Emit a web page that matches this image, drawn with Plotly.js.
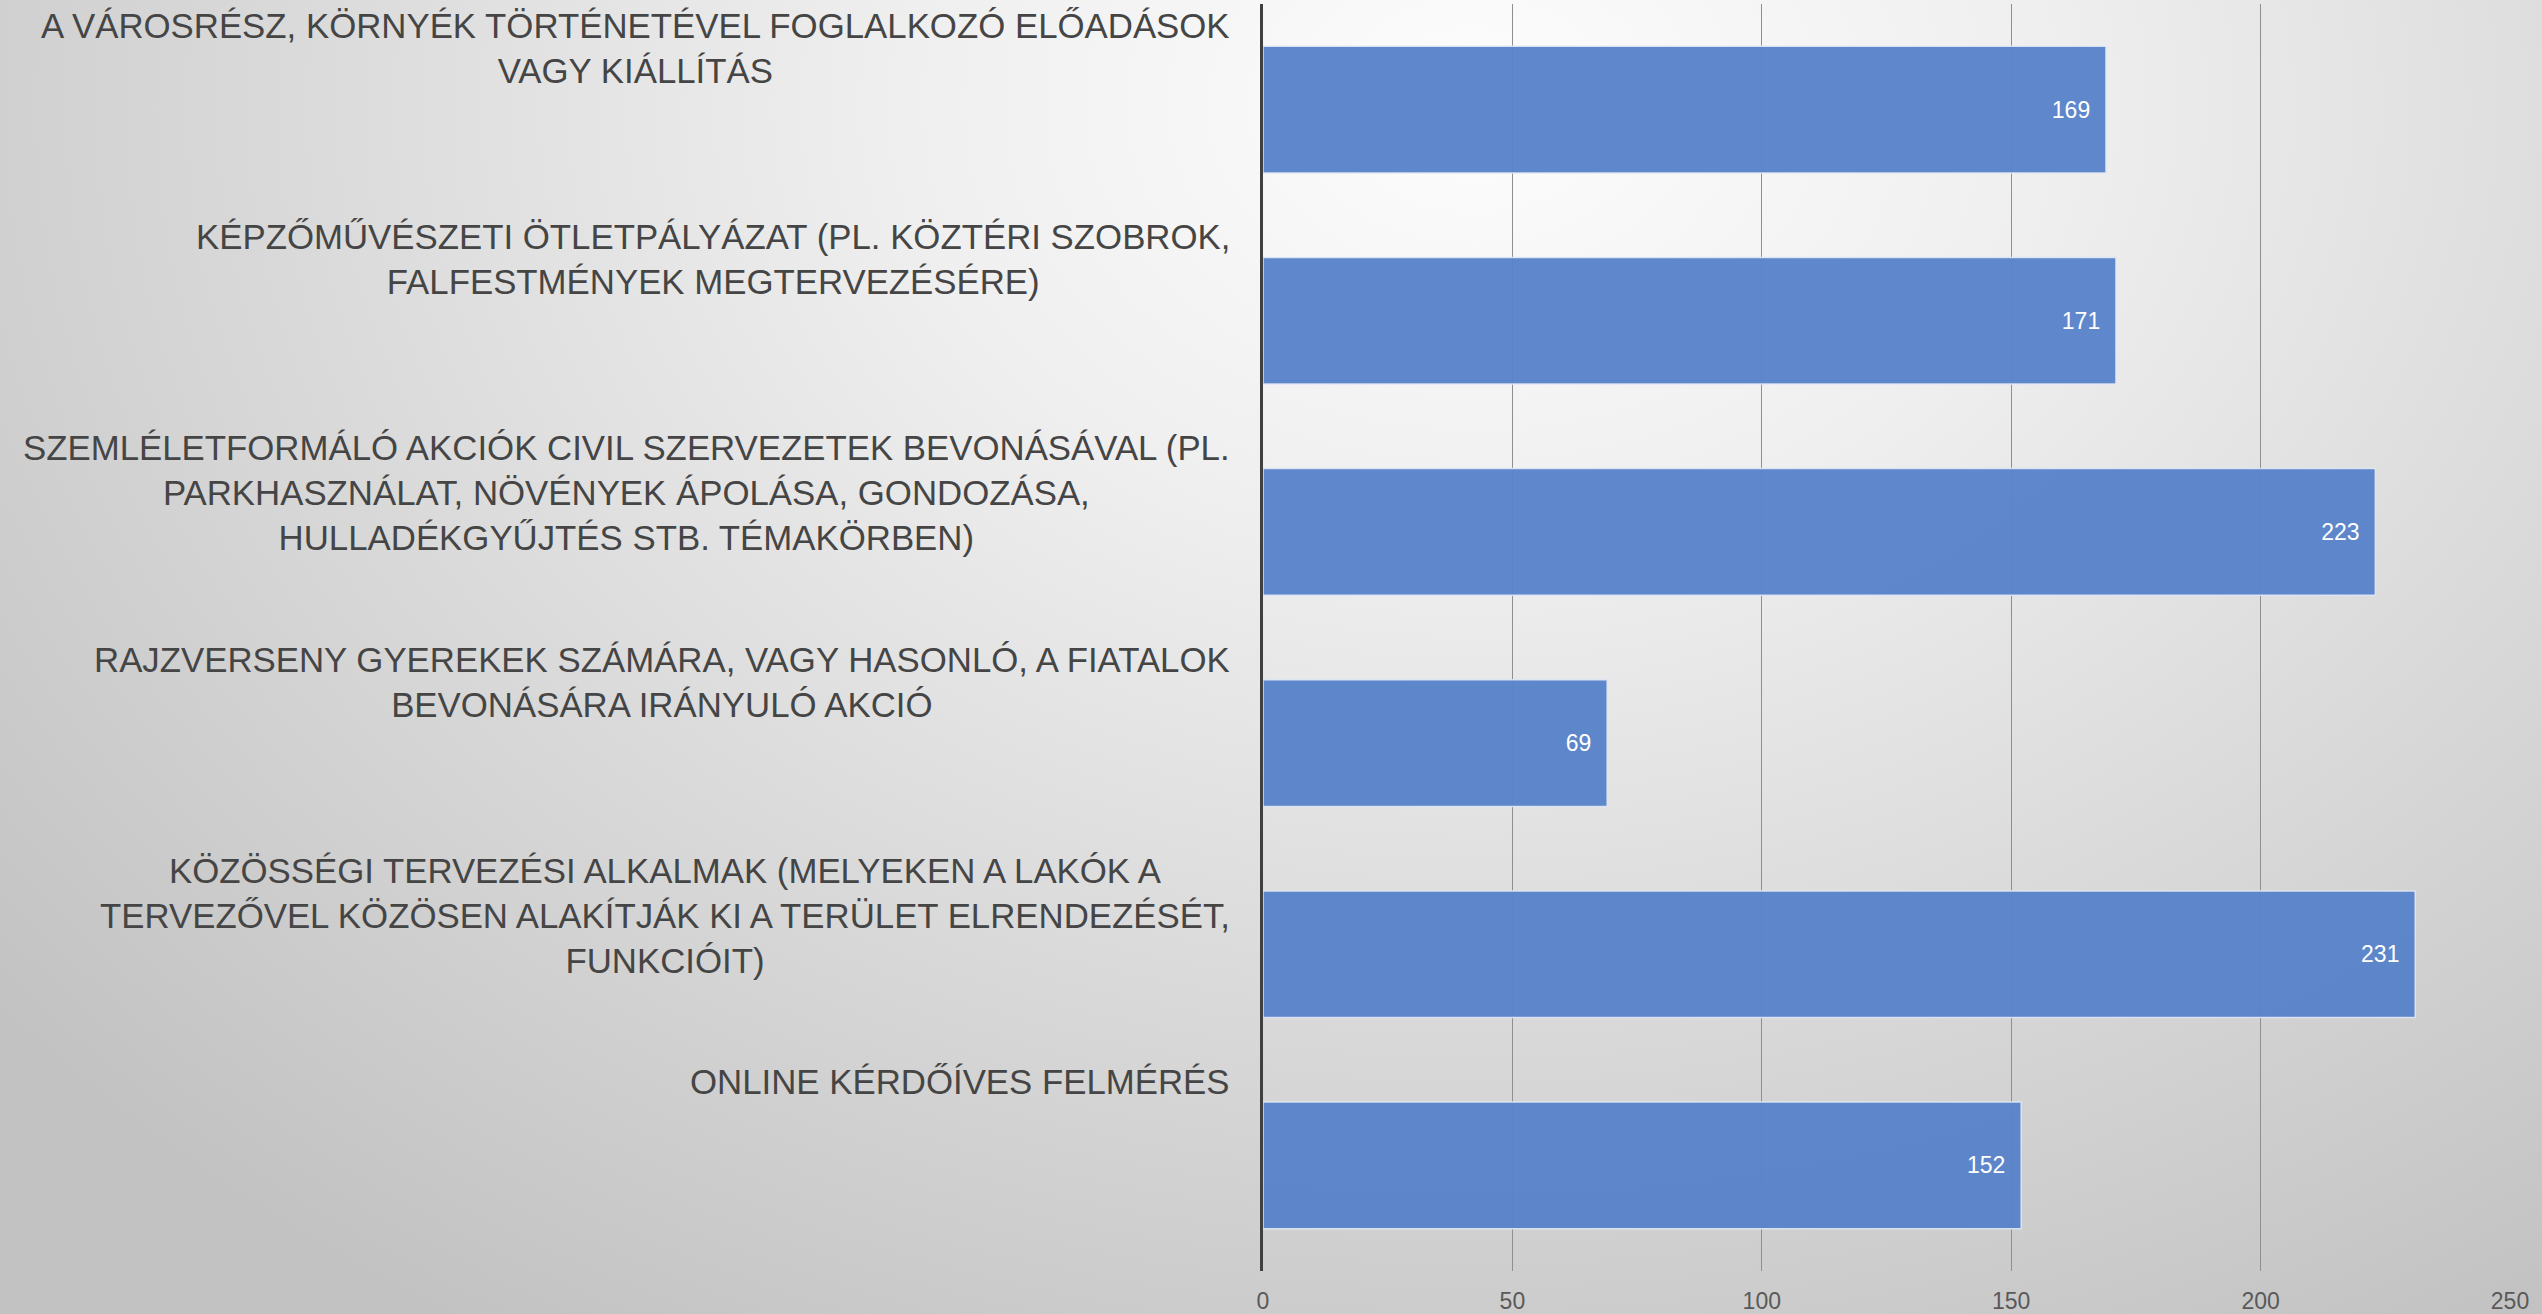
<!DOCTYPE html>
<html>
<head>
<meta charset="utf-8">
<script src="https://cdn.plot.ly/plotly-3.0.1.min.js"></script>
<style>
  html, body { margin: 0; padding: 0; }
  #chart {
    width: 2542px; height: 1314px;
    background: radial-gradient(ellipse 75% 110% at 58% 8%, #fdfdfd 0%, #efefef 30%, #dadada 62%, #c2c2c2 100%);
  }
</style>
</head>
<body>
<div id="chart"></div>
<script>
const categories = [
  "A VÁROSRÉSZ, KÖRNYÉK TÖRTÉNETÉVEL FOGLALKOZÓ ELŐADÁSOK<br>VAGY KIÁLLÍTÁS",
  "KÉPZŐMŰVÉSZETI ÖTLETPÁLYÁZAT (PL. KÖZTÉRI SZOBROK,<br>FALFESTMÉNYEK MEGTERVEZÉSÉRE)",
  "SZEMLÉLETFORMÁLÓ AKCIÓK CIVIL SZERVEZETEK BEVONÁSÁVAL (PL.<br>PARKHASZNÁLAT, NÖVÉNYEK ÁPOLÁSA, GONDOZÁSA,<br>HULLADÉKGYŰJTÉS STB. TÉMAKÖRBEN)",
  "RAJZVERSENY GYEREKEK SZÁMÁRA, VAGY HASONLÓ, A FIATALOK<br>BEVONÁSÁRA IRÁNYULÓ AKCIÓ",
  "KÖZÖSSÉGI TERVEZÉSI ALKALMAK (MELYEKEN A LAKÓK A<br>TERVEZŐVEL KÖZÖSEN ALAKÍTJÁK KI A TERÜLET ELRENDEZÉSÉT,<br>FUNKCIÓIT)",
  "ONLINE KÉRDŐÍVES FELMÉRÉS"
];
const values = [169, 171, 223, 69, 231, 152];
const xTicks = [0, 50, 100, 150, 200, 250];

const idx = categories.map((c, i) => i);

const trace = {
  type: 'bar',
  orientation: 'h',
  y: idx,
  x: values,
  text: values.map(String),
  texttemplate: '%{text}\u00a0\u00a0',
  textposition: 'inside',
  insidetextanchor: 'end',
  textangle: 0,
  textfont: { family: 'Liberation Sans, Arial, sans-serif', size: 23, color: '#ffffff' },
  marker: { color: 'rgba(88,130,201,0.96)', line: { color: 'rgba(225,232,245,0.9)', width: 1.5 } },
  hoverinfo: 'none'
};

const annotations = categories.map((c, i) => ({
  xref: 'paper', yref: 'y',
  x: 0, y: i - 0.5,
  xanchor: 'right', yanchor: 'top',
  xshift: -31, yshift: 0,
  align: 'center',
  showarrow: false,
  text: c,
  font: { family: 'Liberation Sans, Arial, sans-serif', size: 34.8, color: '#454545' }
}));

const layout = {
  width: 2542, height: 1314,
  paper_bgcolor: 'rgba(0,0,0,0)',
  plot_bgcolor: 'rgba(0,0,0,0)',
  margin: { l: 1263, r: 32, t: 4, b: 43, pad: 0 },
  bargap: 0.4,
  showlegend: false,
  xaxis: {
    range: [0, 250],
    tickvals: xTicks,
    ticktext: xTicks.map(String),
    showgrid: true,
    gridcolor: '#8f8f8f',
    gridwidth: 1.2,
    zeroline: false,
    showline: false,
    ticks: '',
    ticklabelstandoff: 14,
    tickfont: { family: 'Liberation Sans, Arial, sans-serif', size: 23, color: '#595959' }
  },
  yaxis: {
    type: 'linear',
    range: [categories.length - 0.5, -0.5],
    showticklabels: false,
    showgrid: false,
    zeroline: false,
    showline: true,
    linecolor: '#404040',
    linewidth: 3.5,
    ticks: ''
  },
  annotations: annotations
};

Plotly.newPlot('chart', [trace], layout, { displayModeBar: false, staticPlot: true });
</script>
</body>
</html>
